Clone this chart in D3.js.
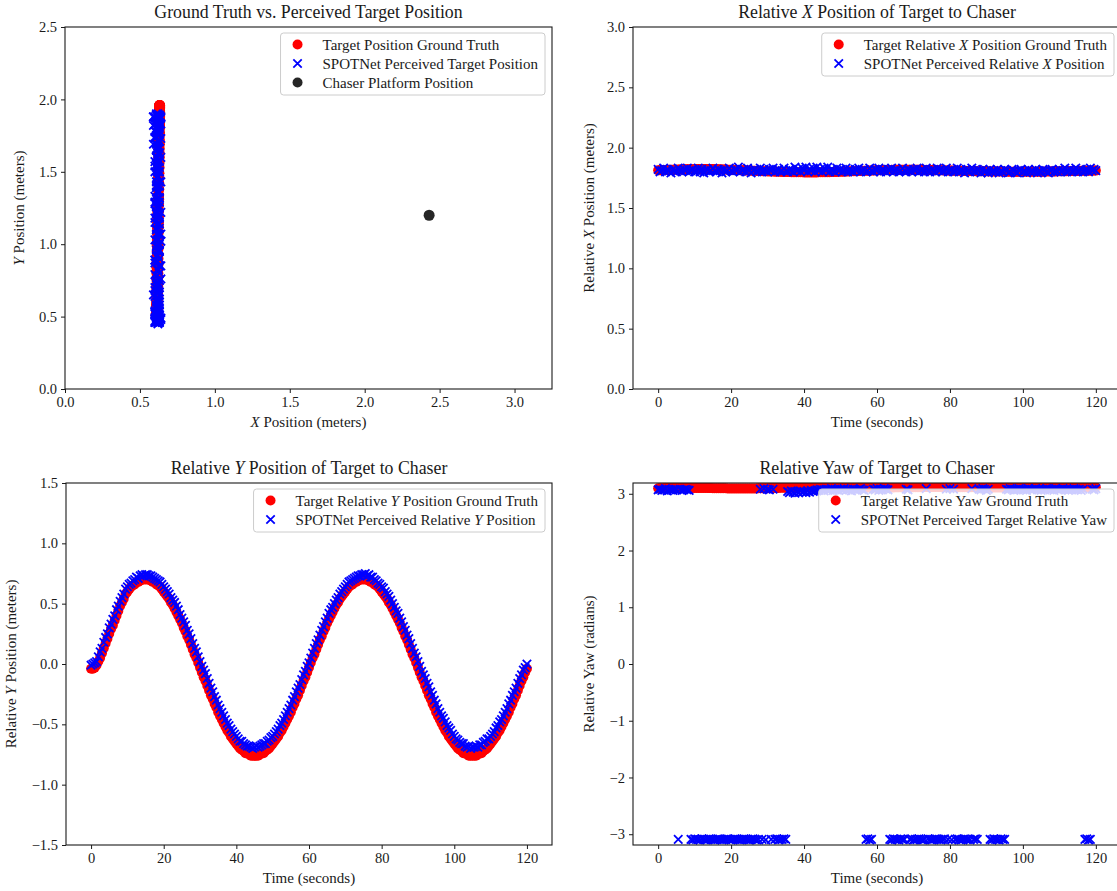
<!DOCTYPE html>
<html>
<head>
<meta charset="utf-8">
<script src="https://cdn.jsdelivr.net/npm/d3@7"></script>
<style>
  body { margin: 0; background: #ffffff; }
  svg text { font-family: "Liberation Serif", "Times New Roman", serif; fill: #1a1a1a; }
</style>
</head>
<body>
<svg id="chart" width="1117" height="891"></svg>
<script>
// ---------------------------------------------------------------------------
// Experiment log: samples every 0.5 s over a 120 s run
// ---------------------------------------------------------------------------
const sampleStep = 0.5;            // seconds between logged samples
const chaserPosition = [2.43, 1.20]; // chaser platform (x, y) in metres

// Relative X of target in chaser frame (metres)
const truthRelX = [
  1.812,1.813,1.812,1.814,1.815,1.815,1.816,1.816,1.817,1.818,1.818,1.819,1.819,1.820,1.820,1.821,1.821,1.821,1.822,1.822,
  1.822,1.823,1.823,1.823,1.823,1.824,1.824,1.824,1.823,1.823,1.823,1.822,1.822,1.821,1.821,1.820,1.820,1.819,1.818,1.818,
  1.817,1.816,1.815,1.815,1.814,1.813,1.812,1.812,1.811,1.810,1.810,
  1.809,1.808,1.808,1.807,1.806,1.806,1.805,1.804,1.804,1.803,1.803,1.802,1.802,1.801,1.801,1.800,1.800,1.799,1.799,1.798,
  1.798,1.798,1.797,1.797,1.797,
  1.796,1.796,1.796,1.796,1.795,1.795,1.795,1.795,1.795,1.795,1.795,1.795,1.796,1.796,1.796,1.796,1.797,1.797,1.797,1.798,
  1.798,1.799,1.799,1.800,1.800,1.801,1.801,1.802,1.803,1.803,1.804,1.804,1.805,1.806,1.806,1.807,1.807,1.808,1.809,1.809,
  1.810,1.810,1.811,1.811,1.812,1.812,1.813,1.813,1.814,1.814,1.815,1.815,1.815,1.816,1.816,1.816,1.816,1.817,1.817,1.817,
  1.817,1.817,1.817,1.817,1.817,1.817,1.816,1.816,1.816,1.816,1.815,1.815,1.815,1.814,1.814,1.814,1.813,1.813,1.812,1.812,
  1.812,1.811,1.811,1.810,1.810,1.810,1.809,1.809,1.808,1.808,1.808,1.807,1.807,1.807,1.806,1.806,1.806,1.805,1.805,1.805,
  1.805,1.804,1.804,1.804,1.804,
  1.803,1.803,1.803,1.803,1.802,1.802,1.802,1.802,1.802,1.801,1.801,1.801,1.801,1.801,1.801,1.800,1.800,1.800,1.800,1.800,
  1.800,1.800,1.800,1.800,1.800,1.800,1.800,1.801,1.801,1.801,1.801,1.801,1.802,1.802,1.802,1.802,1.803,1.803,1.803,1.804,
  1.804,1.804,1.805,1.805,1.805,1.806,1.806,1.806,1.807,1.807,1.807,1.808,1.808,1.808,1.809,1.809,1.809,1.810,1.810,1.810
];
const perceivedRelX = [
  1.82,1.80,1.81,1.83,1.80,1.82,1.81,1.79,1.82,1.81,1.80,1.83,1.81,1.80,1.82,1.81,1.83,1.80,1.81,1.82,
  1.80,1.81,1.83,1.80,1.82,1.79,1.81,1.82,1.80,1.81,1.83,1.81,1.80,1.82,1.81,1.79,1.82,1.80,1.81,1.83,
  1.81,1.80,1.82,1.81,1.84,1.80,1.81,1.82,1.80,1.83,1.81,1.79,1.81,1.82,1.80,1.81,1.83,1.80,1.82,1.81,
  1.80,1.82,1.81,1.83,1.80,1.81,1.82,1.80,1.81,1.83,1.81,1.80,1.82,1.81,1.80,1.84,1.81,1.82,1.80,1.83,
  1.81,1.84,1.80,1.82,1.81,1.83,1.80,1.84,1.81,1.82,1.80,1.83,1.81,1.84,1.80,1.82,1.81,1.80,1.83,1.81,
  1.82,1.80,1.81,1.83,1.80,1.82,1.81,1.80,1.82,1.81,1.83,1.80,1.81,1.82,1.80,1.81,1.83,1.81,1.80,1.82,
  1.81,1.83,1.80,1.82,1.81,1.80,1.82,1.81,1.83,1.80,1.81,1.82,1.80,1.81,1.83,1.81,1.80,1.82,1.81,1.80,
  1.82,1.81,1.83,1.80,1.81,1.82,1.80,1.83,1.81,1.80,1.82,1.81,1.80,1.83,1.81,1.82,1.80,1.81,1.83,1.80,
  1.81,1.82,1.80,1.81,1.83,1.80,1.82,1.81,1.79,1.82,1.81,1.80,1.83,1.81,1.80,1.82,1.81,1.79,1.82,1.80,
  1.81,1.79,1.82,1.80,1.81,1.80,1.82,1.79,1.81,1.80,1.82,1.81,1.79,1.80,1.82,1.81,1.80,1.79,1.81,1.82,
  1.80,1.81,1.79,1.82,1.80,1.81,1.80,1.82,1.79,1.81,1.80,1.82,1.81,1.80,1.79,1.81,1.82,1.80,1.81,1.80,
  1.82,1.80,1.81,1.83,1.80,1.81,1.82,1.80,1.81,1.83,1.80,1.81,1.82,1.80,1.81,1.82,1.80,1.83,1.81,1.82,
  1.81
];

// Relative Y of target in chaser frame (metres)
const truthRelY = [
  -0.04,-0.04,-0.03,-0.01,0.02,0.05,0.09,0.13,0.17,0.21,0.25,0.29,0.32,0.36,0.40,0.44,0.48,0.51,0.54,0.58,0.60,
  0.62,0.64,0.65,0.66,0.68,0.68,0.69,0.70,0.70,0.70,
  0.70,0.70,0.69,0.68,0.68,0.66,0.65,0.64,0.62,0.60,0.58,0.56,0.54,0.51,0.49,0.46,0.43,0.40,0.37,0.34,
  0.30,0.27,0.23,0.20,0.16,0.12,0.08,0.05,0.01,-0.03,
  -0.07,-0.11,-0.14,-0.18,-0.22,-0.26,-0.29,-0.33,-0.36,-0.40,-0.43,-0.46,-0.49,-0.52,-0.55,-0.57,-0.60,-0.62,-0.64,-0.66,
  -0.68,-0.70,-0.71,-0.72,-0.74,-0.74,-0.75,-0.76,-0.76,-0.76,
  -0.76,-0.76,-0.75,-0.74,-0.74,-0.72,-0.71,-0.70,-0.68,-0.66,-0.64,-0.62,-0.60,-0.57,-0.55,-0.52,-0.49,-0.46,-0.43,-0.40,
  -0.36,-0.33,-0.29,-0.26,-0.22,-0.18,-0.14,-0.11,-0.07,-0.03,
  0.01,0.05,0.08,0.12,0.16,0.20,0.23,0.27,0.30,0.34,0.37,0.40,0.43,0.46,0.49,0.51,0.54,0.56,0.58,0.60,
  0.62,0.64,0.65,0.66,0.68,0.68,0.69,0.70,0.70,0.70,
  0.70,0.70,0.69,0.68,0.68,0.66,0.65,0.64,0.62,0.60,0.58,0.56,0.54,0.51,0.49,0.46,0.43,0.40,0.37,0.34,
  0.30,0.27,0.23,0.20,0.16,0.12,0.08,0.05,0.01,-0.03,
  -0.07,-0.11,-0.14,-0.18,-0.22,-0.26,-0.29,-0.33,-0.36,-0.40,-0.43,-0.46,-0.49,-0.52,-0.55,-0.57,-0.60,-0.62,-0.64,-0.66,
  -0.68,-0.70,-0.71,-0.72,-0.74,-0.74,-0.75,-0.76,-0.76,-0.76,
  -0.76,-0.76,-0.75,-0.74,-0.74,-0.72,-0.71,-0.70,-0.68,-0.66,-0.64,-0.62,-0.60,-0.57,-0.55,-0.52,-0.49,-0.46,-0.43,-0.40,
  -0.36,-0.33,-0.29,-0.26,-0.22,-0.18,-0.14,-0.11,-0.07,-0.04
];
const perceivedRelY = [
  -0.01,0.00,0.01,0.02,0.06,0.10,0.13,0.18,0.22,0.25,0.30,0.33,0.37,0.40,0.45,0.48,0.52,0.55,0.58,0.62,0.64,
  0.66,0.67,0.69,0.70,0.72,0.71,0.73,0.74,0.73,0.74,
  0.74,0.73,0.73,0.72,0.71,0.70,0.69,0.68,0.66,0.64,0.62,0.60,0.58,0.55,0.53,0.51,0.48,0.45,0.41,0.38,
  0.35,0.32,0.28,0.25,0.21,0.17,0.13,0.10,0.06,0.02,
  -0.02,-0.05,-0.08,-0.12,-0.16,-0.20,-0.23,-0.27,-0.30,-0.34,-0.37,-0.40,-0.43,-0.46,-0.49,-0.51,-0.54,-0.56,-0.58,-0.60,
  -0.62,-0.64,-0.64,-0.66,-0.67,-0.68,-0.68,-0.69,-0.70,-0.69,
  -0.68,-0.69,-0.68,-0.67,-0.66,-0.66,-0.64,-0.63,-0.61,-0.60,-0.58,-0.56,-0.54,-0.51,-0.49,-0.46,-0.43,-0.40,-0.37,-0.34,
  -0.30,-0.27,-0.23,-0.20,-0.17,-0.13,-0.09,-0.06,-0.02,0.01,
  0.05,0.09,0.13,0.17,0.20,0.24,0.28,0.31,0.35,0.38,0.42,0.45,0.47,0.50,0.53,0.55,0.58,0.60,0.62,0.64,
  0.66,0.68,0.69,0.70,0.71,0.72,0.73,0.73,0.74,0.74,
  0.75,0.73,0.74,0.72,0.72,0.70,0.69,0.67,0.66,0.64,0.63,0.60,0.58,0.56,0.53,0.50,0.47,0.44,0.42,0.38,
  0.35,0.31,0.28,0.24,0.21,0.17,0.13,0.09,0.06,0.02,
  -0.02,-0.06,-0.09,-0.12,-0.16,-0.19,-0.23,-0.26,-0.30,-0.33,-0.37,-0.40,-0.43,-0.45,-0.48,-0.51,-0.53,-0.55,-0.58,-0.60,
  -0.62,-0.63,-0.65,-0.66,-0.66,-0.68,-0.69,-0.68,-0.70,-0.69,
  -0.69,-0.68,-0.69,-0.67,-0.67,-0.65,-0.64,-0.62,-0.62,-0.60,-0.58,-0.56,-0.53,-0.51,-0.48,-0.46,-0.43,-0.40,-0.37,-0.33,
  -0.30,-0.26,-0.23,-0.20,-0.16,-0.12,-0.09,-0.05,-0.03,0.00
];

// Relative yaw of target (radians, wrapped to [-pi, pi])
const truthYaw = [
  3.098,3.098,3.099,3.099,3.100,3.100,3.100,3.101,3.101,3.101,3.102,3.102,3.102,3.102,3.103,3.103,3.103,3.103,3.103,3.103,
  3.103,3.103,3.103,3.102,3.102,3.102,3.101,3.101,3.100,3.100,3.099,3.099,3.098,3.098,3.097,3.097,3.096,3.096,3.095,3.095,
  3.094,3.094,3.094,3.093,3.093,3.093,3.093,3.093,3.093,3.093,3.094,3.094,3.094,3.095,3.095,3.096,3.096,3.097,3.098,3.098,
  3.099,3.100,3.101,3.101,3.102,3.103,3.104,3.105,3.105,3.106,3.107,3.108,3.108,3.109,3.110,3.110,3.111,3.112,3.112,3.113,
  3.113,3.114,3.114,3.115,3.115,3.115,3.116,3.116,3.116,3.116,3.117,3.117,3.117,3.117,3.117,3.117,3.117,3.117,3.117,3.117,
  3.117,3.116,3.116,3.116,3.116,3.115,3.115,3.115,3.114,3.114,3.114,3.113,3.113,3.113,3.112,3.112,3.112,3.111,3.111,3.111,
  3.111,3.111,3.111,3.111,3.111,3.111,3.112,3.112,3.112,3.112,3.113,3.113,3.113,3.114,3.114,3.114,3.115,3.115,3.115,3.116,
  3.116,3.116,3.117,3.117,3.117,3.118,3.118,3.118,3.118,3.119,3.119,3.119,3.119,3.119,3.119,3.119,3.119,3.119,3.119,3.119,
  3.119,3.119,3.118,3.118,3.118,3.118,3.117,3.117,3.117,3.116,3.116,3.116,3.115,3.115,3.115,3.114,3.114,3.114,3.113,3.113,
  3.113,3.112,3.112,3.112,3.111,3.111,3.111,3.111,3.110,3.110,3.110,3.110,3.110,3.110,3.110,3.110,3.110,3.110,3.110,3.110,
  3.110,3.110,3.111,3.111,3.111,3.111,3.112,3.112,3.112,3.112,3.113,3.113,3.113,3.113,3.114,3.114,3.114,3.114,3.115,3.115,
  3.115,3.115,3.115,3.116,3.116,3.116,3.116,3.116,3.116,3.116,3.116,3.116,3.116,3.116,3.116,3.115,3.115,3.115,3.115,3.115,
  3.115
];
const perceivedYaw = [
  3.07,3.08,3.06,3.07,3.09,3.05,3.08,3.07,3.06,3.08,3.07,
  -3.09,
  3.08,3.06,3.07,3.08,3.07,3.06,
  -3.09,-3.10,-3.08,-3.09,-3.09,-3.10,-3.08,-3.09,-3.10,-3.09,-3.08,-3.09,-3.09,-3.10,-3.09,-3.08,-3.09,-3.10,-3.09,-3.09,
  -3.08,-3.09,-3.10,-3.09,-3.08,-3.09,-3.09,-3.10,-3.09,-3.08,-3.09,-3.09,-3.10,-3.09,-3.08,-3.09,-3.10,-3.09,
  3.08,-3.09,3.09,-3.10,3.08,3.07,-3.09,3.08,
  -3.09,-3.08,-3.10,-3.09,-3.09,-3.08,-3.09,
  3.04,3.02,3.05,3.03,3.01,3.04,3.02,3.05,3.03,3.04,3.02,3.05,3.03,3.06,3.04,3.05,
  3.07,3.06,3.08,3.07,3.05,3.08,3.06,3.07,3.09,3.06,3.08,3.07,3.06,3.08,3.07,3.09,3.06,3.08,3.07,3.05,
  3.08,3.07,3.06,3.08,3.09,3.07,3.06,
  -3.09,-3.08,-3.10,-3.09,
  3.08,3.07,3.09,3.06,3.08,3.07,3.09,3.08,3.07,
  -3.09,-3.10,-3.08,-3.09,-3.09,-3.10,-3.08,-3.09,-3.09,
  3.08,3.07,
  -3.09,-3.08,-3.10,-3.09,-3.09,-3.08,-3.09,-3.10,-3.09,
  3.09,
  -3.08,-3.09,-3.10,-3.09,-3.08,-3.09,-3.09,-3.10,-3.09,-3.08,
  3.08,-3.09,3.09,-3.10,3.08,
  -3.09,-3.08,-3.09,-3.10,-3.09,-3.08,-3.09,-3.09,-3.10,
  3.09,
  -3.09,-3.08,-3.09,
  3.08,3.07,3.09,3.08,3.06,3.08,
  -3.09,-3.10,-3.08,-3.09,-3.09,-3.10,-3.08,-3.09,-3.09,
  3.08,3.07,3.09,3.08,3.06,3.08,3.07,3.09,3.08,3.07,3.08,3.06,3.09,3.08,3.07,3.08,3.09,3.07,3.08,3.06,
  3.08,3.07,3.09,3.08,3.07,3.08,3.06,3.09,3.08,3.07,3.08,3.09,3.07,3.08,3.06,3.08,3.07,3.09,3.08,3.07,
  3.08,3.06,3.08,
  -3.09,-3.08,-3.10,-3.09,
  3.08,3.07,3.09
];

// Axis tick values
const posXTicks = [0, 0.5, 1.0, 1.5, 2.0, 2.5, 3.0];
const posYTicks = [0, 0.5, 1.0, 1.5, 2.0, 2.5];
const timeTicks = [0, 20, 40, 60, 80, 100, 120];
const relXTicks = [0, 0.5, 1.0, 1.5, 2.0, 2.5, 3.0];
const relYTicks = [-1.5, -1.0, -0.5, 0, 0.5, 1.0, 1.5];
const yawTicks = [-3, -2, -1, 0, 1, 2, 3];

// ---------------------------------------------------------------------------
const time = truthRelY.map((_, i) => i * sampleStep);

const RED = "#ff0000", BLUE = "#0000ff", DARK = "#262626";
const svg = d3.select("#chart");
const FONT_TICK = 14.5, FONT_LABEL = 15, FONT_LEGEND = 15, FONT_TITLE = 17.8;

const fmtMinus = s => s.replace("-", "\u2212");
const fmt1 = d => fmtMinus(d3.format(".1f")(d));
const fmt0 = d => fmtMinus(d3.format("d")(d));

let clipCount = 0;

function makePanel(box, xDomain, yDomain) {
  const x = d3.scaleLinear().domain(xDomain).range([box.left, box.right]);
  const y = d3.scaleLinear().domain(yDomain).range([box.bottom, box.top]);
  const id = "clip" + (clipCount++);
  svg.append("clipPath").attr("id", id).append("rect")
    .attr("x", box.left).attr("y", box.top)
    .attr("width", box.right - box.left).attr("height", box.bottom - box.top);
  const g = svg.append("g");
  const plot = g.append("g").attr("clip-path", `url(#${id})`);
  return { x, y, g, plot, box };
}

function drawFrame(p, xTicks, yTicks, xFmt, yFmt) {
  const { g, x, y, box } = p;
  const ax = g.append("g").attr("transform", `translate(0,${box.bottom})`)
    .call(d3.axisBottom(x).tickValues(xTicks).tickFormat(xFmt).tickSize(4).tickPadding(4));
  const ay = g.append("g").attr("transform", `translate(${box.left},0)`)
    .call(d3.axisLeft(y).tickValues(yTicks).tickFormat(yFmt).tickSize(4).tickPadding(4));
  [ax, ay].forEach(a => {
    a.select(".domain").remove();
    a.selectAll(".tick line").attr("stroke", "#1a1a1a").attr("stroke-width", 1);
    a.selectAll(".tick text").attr("font-size", FONT_TICK)
      .attr("font-family", '"Liberation Serif", serif').attr("fill", "#1a1a1a");
  });
  g.append("rect")
    .attr("x", box.left).attr("y", box.top)
    .attr("width", box.right - box.left).attr("height", box.bottom - box.top)
    .attr("fill", "none").attr("stroke", "#1a1a1a").attr("stroke-width", 1.1);
}

// text with an optional italic symbol, parts = [[text, italic], ...]
function richText(sel, parts) {
  parts.forEach(([t, it]) => {
    sel.append("tspan").text(t).attr("font-style", it ? "italic" : "normal");
  });
  return sel;
}

function titles(p, title, xLabel, yLabel, yLabelX) {
  const { g, box } = p;
  const cx = (box.left + Math.min(box.right, 1121)) / 2;
  richText(g.append("text").attr("x", cx).attr("y", box.top - 9)
    .attr("text-anchor", "middle").attr("font-size", FONT_TITLE), title);
  richText(g.append("text").attr("x", cx).attr("y", box.bottom + 38)
    .attr("text-anchor", "middle").attr("font-size", FONT_LABEL), xLabel);
  const cy = (box.top + box.bottom) / 2;
  richText(g.append("text")
    .attr("transform", `translate(${yLabelX},${cy}) rotate(-90)`)
    .attr("text-anchor", "middle").attr("font-size", FONT_LABEL), yLabel);
}

const crossPath = h => `M${-h},${-h}L${h},${h}M${h},${-h}L${-h},${h}`;

function dots(p, xs, ys, color, r) {
  p.plot.append("g").selectAll("circle").data(xs).join("circle")
    .attr("cx", d => p.x(d)).attr("cy", (d, i) => p.y(ys[i]))
    .attr("r", r).attr("fill", color);
}
function crosses(p, xs, ys, color) {
  p.plot.append("g").selectAll("path").data(xs).join("path")
    .attr("transform", (d, i) => `translate(${p.x(d)},${p.y(ys[i])})`)
    .attr("d", crossPath(4.2)).attr("stroke", color).attr("stroke-width", 1.8)
    .attr("fill", "none");
}

function legend(p, entries) {
  const { g, box } = p;
  const lg = g.append("g");
  const rowH = 19;
  const bg = lg.append("rect");
  const texts = entries.map((e, i) => {
    const t = richText(lg.append("text").attr("font-size", FONT_LEGEND)
      .attr("dominant-baseline", "central"), e.label);
    return t;
  });
  const maxW = d3.max(texts, t => t.node().getComputedTextLength());
  const w = 42 + maxW + 7;
  const h = entries.length * rowH + 5;
  const left = box.right - 7 - w, top = box.top + 6;
  bg.attr("x", left).attr("y", top).attr("width", w).attr("height", h)
    .attr("rx", 3).attr("fill", "#ffffff").attr("fill-opacity", 0.8)
    .attr("stroke", "#cccccc").attr("stroke-width", 1);
  entries.forEach((e, i) => {
    const cy = top + 11.5 + i * rowH;
    texts[i].attr("x", left + 42).attr("y", cy);
    if (e.type === "dot") {
      lg.append("circle").attr("cx", left + 17).attr("cy", cy).attr("r", 5).attr("fill", e.color);
    } else {
      lg.append("path").attr("transform", `translate(${left + 17},${cy})`)
        .attr("d", crossPath(4.2)).attr("stroke", e.color).attr("stroke-width", 1.8);
    }
  });
}

// ---------------- Panel 1: ground truth vs perceived position --------------
{
  const p = makePanel({ left: 65, right: 552, top: 27, bottom: 389 }, [0, 3.25], [0, 2.5]);
  const tx = truthRelX.map(v => chaserPosition[0] - v);
  const ty = truthRelY.map(v => chaserPosition[1] - v);
  const px = perceivedRelX.map(v => chaserPosition[0] - v);
  const py = perceivedRelY.map(v => chaserPosition[1] - v);
  dots(p, tx, ty, RED, 5);
  crosses(p, px, py, BLUE);
  dots(p, [chaserPosition[0]], [chaserPosition[1]], DARK, 5.5);
  drawFrame(p, posXTicks, posYTicks, fmt1, fmt1);
  titles(p, [["Ground Truth vs. Perceived Target Position"]],
    [["X", true], [" Position (meters)"]], [["Y", true], [" Position (meters)"]], 24);
  legend(p, [
    { type: "dot", color: RED, label: [["Target Position Ground Truth"]] },
    { type: "x", color: BLUE, label: [["SPOTNet Perceived Target Position"]] },
    { type: "dot", color: DARK, label: [["Chaser Platform Position"]] }
  ]);
}

// ---------------- Panel 2: relative X --------------------------------------
{
  const p = makePanel({ left: 633, right: 1121, top: 27, bottom: 389 }, [-6.9, 126.9], [0, 3]);
  dots(p, time, truthRelX, RED, 5);
  crosses(p, time, perceivedRelX, BLUE);
  drawFrame(p, timeTicks, relXTicks, fmt0, fmt1);
  titles(p, [["Relative "], ["X", true], [" Position of Target to Chaser"]],
    [["Time (seconds)"]], [["Relative "], ["X", true], [" Position (meters)"]], 594);
  legend(p, [
    { type: "dot", color: RED, label: [["Target Relative "], ["X", true], [" Position Ground Truth"]] },
    { type: "x", color: BLUE, label: [["SPOTNet Perceived Relative "], ["X", true], [" Position"]] }
  ]);
}

// ---------------- Panel 3: relative Y --------------------------------------
{
  const p = makePanel({ left: 66, right: 552, top: 483, bottom: 845 }, [-6.9, 126.9], [-1.5, 1.5]);
  dots(p, time, truthRelY, RED, 5);
  crosses(p, time, perceivedRelY, BLUE);
  drawFrame(p, timeTicks, relYTicks, fmt0, fmt1);
  titles(p, [["Relative "], ["Y", true], [" Position of Target to Chaser"]],
    [["Time (seconds)"]], [["Relative "], ["Y", true], [" Position (meters)"]], 16);
  legend(p, [
    { type: "dot", color: RED, label: [["Target Relative "], ["Y", true], [" Position Ground Truth"]] },
    { type: "x", color: BLUE, label: [["SPOTNet Perceived Relative "], ["Y", true], [" Position"]] }
  ]);
}

// ---------------- Panel 4: relative yaw ------------------------------------
{
  const p = makePanel({ left: 633, right: 1121, top: 483, bottom: 845 }, [-6.9, 126.9], [-3.19, 3.19]);
  dots(p, time, truthYaw, RED, 5);
  crosses(p, time, perceivedYaw, BLUE);
  drawFrame(p, timeTicks, yawTicks, fmt0, fmt0);
  titles(p, [["Relative Yaw of Target to Chaser"]],
    [["Time (seconds)"]], [["Relative Yaw (radians)"]], 594);
  legend(p, [
    { type: "dot", color: RED, label: [["Target Relative Yaw Ground Truth"]] },
    { type: "x", color: BLUE, label: [["SPOTNet Perceived Target Relative Yaw"]] }
  ]);
}
</script>
</body>
</html>
